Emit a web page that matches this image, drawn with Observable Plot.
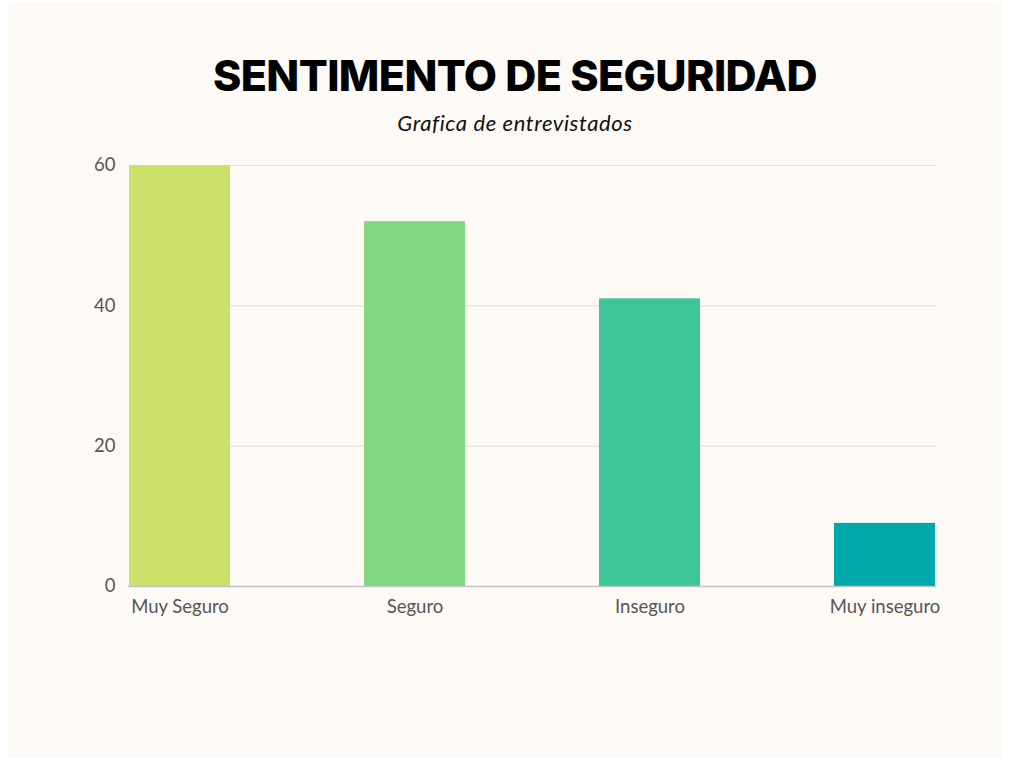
<!DOCTYPE html>
<html>
<head>
<meta charset="utf-8">
<script src="https://cdn.jsdelivr.net/npm/d3@7"></script>
<script src="https://cdn.jsdelivr.net/npm/@observablehq/plot@0.6"></script>
<style>
  html, body { margin: 0; padding: 0; background: #ffffff; width: 1010px; height: 761px; overflow: hidden; }
  #card { position: absolute; left: 8px; top: 3px; width: 994px; height: 755px; background: #fdfaf5; }
  #title { position: absolute; left: 0; width: 1030px; top: 50px; text-align: center; font-family: Inter, "Noto Sans", sans-serif; font-weight: 800; font-size: 43px; letter-spacing: -0.6px; color: #000; line-height: 50px; }
  #subtitle { position: absolute; left: 0; width: 1030px; top: 109px; text-align: center; font-family: Lato, sans-serif; font-style: italic; font-size: 22px; color: #111; line-height: 28px; letter-spacing: 0.6px; }
  #chart { position: absolute; left: 0; top: 140px; }
</style>
</head>
<body>
<div id="card"></div>
<div id="title">SENTIMENTO DE SEGURIDAD</div>
<div id="subtitle">Grafica de entrevistados</div>
<div id="chart"></div>
<script>
const categories = ["Muy Seguro", "Seguro", "Inseguro", "Muy inseguro"];
const values = [60, 52, 41, 9];
const colors = ["#cbe169", "#81d681", "#3ec59a", "#00a9a9"];
const yTicks = [0, 20, 40, 60];

const data = categories.map((c, i) => ({category: c, value: values[i], color: colors[i]}));

const chart = Plot.plot({
  width: 1010,
  height: 500,
  marginLeft: 128,
  marginRight: 74,
  marginTop: 25,
  marginBottom: 54,
  style: {background: "transparent", fontFamily: "Lato, sans-serif", fontSize: "18.5px", color: "#555"},
  x: {domain: categories, paddingInner: 0.569, paddingOuter: 0, label: null, tickSize: 0, tickPadding: 13},
  y: {domain: [0, 60], ticks: yTicks, label: null, tickSize: 0, tickPadding: 13},
  marks: [
    Plot.ruleY(yTicks.filter(t => t > 0), {stroke: "#e4e2de", strokeWidth: 1.2}),
    Plot.barY(data, {x: "category", y: "value", fill: "color"}),
    Plot.ruleY([0], {stroke: "#c4c4c4", strokeWidth: 1.5})
  ]
});
document.getElementById("chart").appendChild(chart);
</script>
</body>
</html>
